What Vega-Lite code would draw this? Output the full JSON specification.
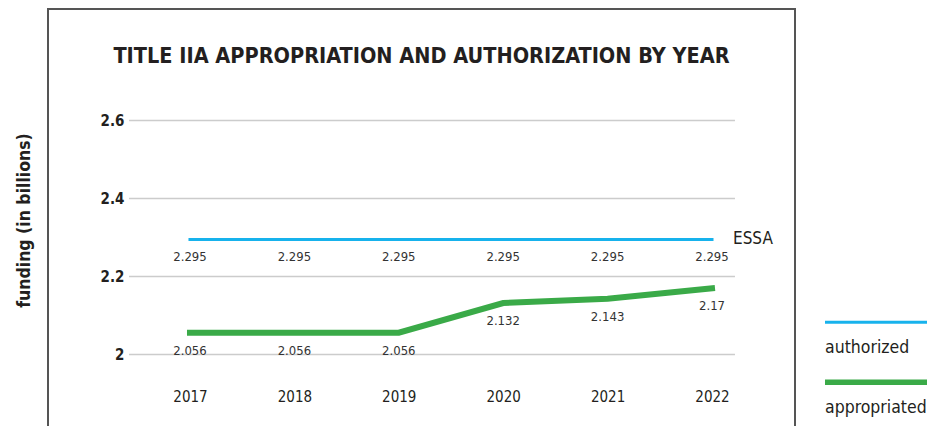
{
  "$schema": "https://vega.github.io/schema/vega-lite/v6.json",
  "autosize": {"type": "none"},
  "padding": {"left": 48, "top": 9, "right": 132, "bottom": 0},
  "width": 747,
  "height": 440,
  "background": "white",
  "title": {
    "text": "TITLE IIA APPROPRIATION AND AUTHORIZATION BY YEAR",
    "font": "DejaVu Sans Condensed, DejaVu Sans, sans-serif",
    "fontSize": 21.5,
    "fontWeight": "bold",
    "color": "#231f20",
    "anchor": "middle",
    "frame": "group",
    "baseline": "alphabetic",
    "offset": -75
  },
  "datasets": {
    "funding": [
      {"year": 2017, "series": "authorized", "value": 2.295},
      {"year": 2018, "series": "authorized", "value": 2.295},
      {"year": 2019, "series": "authorized", "value": 2.295},
      {"year": 2020, "series": "authorized", "value": 2.295},
      {"year": 2021, "series": "authorized", "value": 2.295},
      {"year": 2022, "series": "authorized", "value": 2.295},
      {"year": 2017, "series": "appropriated", "value": 2.056},
      {"year": 2018, "series": "appropriated", "value": 2.056},
      {"year": 2019, "series": "appropriated", "value": 2.056},
      {"year": 2020, "series": "appropriated", "value": 2.132},
      {"year": 2021, "series": "appropriated", "value": 2.143},
      {"year": 2022, "series": "appropriated", "value": 2.17}
    ],
    "grid": [{"v": 2}, {"v": 2.2}, {"v": 2.4}, {"v": 2.6}]
  },
  "layer": [
    {
      "data": {"name": "grid"},
      "mark": {"type": "rule", "color": "#cccccc", "strokeWidth": 1.5},
      "encoding": {
        "x": {"datum": 2016.416, "type": "quantitative"},
        "x2": {"datum": 2022.22},
        "y": {"field": "v", "type": "quantitative"}
      }
    },
    {
      "data": {"name": "funding"},
      "mark": {"type": "line", "strokeCap": "square"},
      "encoding": {
        "x": {
          "field": "year", "type": "quantitative",
          "scale": {"domain": [2015.64, 2022.795], "nice": false, "zero": false},
          "axis": {
            "orient": "bottom", "offset": -60, "values": [2017, 2018, 2019, 2020, 2021, 2022],
            "format": "d", "domain": false, "ticks": false, "tickSize": 0, "grid": false,
            "labelPadding": 0, "labelBaseline": "top", "labelFont": "DejaVu Sans Condensed, DejaVu Sans, sans-serif",
            "labelFontSize": 15, "labelColor": "#231f20", "title": null
          }
        },
        "y": {
          "field": "value", "type": "quantitative",
          "scale": {"domain": [1.7577, 2.8859], "nice": false, "zero": false},
          "axis": {
            "orient": "left", "offset": -81, "values": [2, 2.2, 2.4, 2.6], "format": "~g",
            "domain": false, "ticks": false, "tickSize": 0, "grid": false,
            "labelPadding": 5, "labelFont": "DejaVu Sans Condensed, DejaVu Sans, sans-serif", "labelFontWeight": "bold",
            "labelFontSize": 15, "labelColor": "#231f20",
            "title": "funding (in billions)", "titleFont": "DejaVu Sans Condensed, DejaVu Sans, sans-serif",
            "titleFontWeight": "bold", "titleFontSize": 17.5, "titleColor": "#231f20",
            "titlePadding": 67, "titleY": 211
          }
        },
        "color": {
          "field": "series", "type": "nominal",
          "scale": {"domain": ["authorized", "appropriated"], "range": ["#17b2ec", "#3aaa48"]},
          "legend": {
            "title": null, "orient": "none", "legendX": 777, "legendY": 304.4,
            "padding": 0, "symbolType": "stroke", "symbolSize": 100,
            "symbolStrokeWidth": 3, "labelOffset": -10, "rowPadding": 13,
            "labelFont": "DejaVu Sans Condensed, DejaVu Sans, sans-serif", "labelFontSize": 17.5, "labelColor": "#231f20",
            "labelBaseline": "alphabetic",
            "encode": {
              "labels": {"update": {"dy": {"value": 31}, "x": {"value": 0}}},
              "symbols": {"update": {
                "size": {"value": 14400},
                "x": {"value": 60},
                "strokeWidth": {"signal": "datum.value === 'appropriated' ? 5.5 : 3"}
              }}
            }
          }
        },
        "strokeWidth": {"condition": {"test": "datum.series === 'appropriated'", "value": 6}, "value": 3}
      }
    },
    {
      "data": {"name": "funding"},
      "mark": {"type": "text", "font": "DejaVu Sans Condensed, DejaVu Sans, sans-serif", "fontSize": 13, "color": "#333333", "dy": 18, "baseline": "middle"},
      "encoding": {
        "x": {"field": "year", "type": "quantitative"},
        "y": {"field": "value", "type": "quantitative"},
        "text": {"field": "value", "type": "quantitative", "format": "~g"}
      }
    },
    {
      "data": {"name": "funding"},
      "transform": [{"filter": "datum.series === 'authorized' && datum.year === 2022"}],
      "mark": {"type": "text", "font": "DejaVu Sans Condensed, DejaVu Sans, sans-serif", "fontSize": 17, "color": "#231f20", "align": "left", "baseline": "middle", "dx": 21},
      "encoding": {
        "x": {"field": "year", "type": "quantitative"},
        "y": {"field": "value", "type": "quantitative"},
        "text": {"value": "ESSA"}
      }
    }
  ],
  "config": {
    "view": {"stroke": "#555555", "strokeWidth": 2},
    "font": "DejaVu Sans Condensed, DejaVu Sans, sans-serif"
  }
}
